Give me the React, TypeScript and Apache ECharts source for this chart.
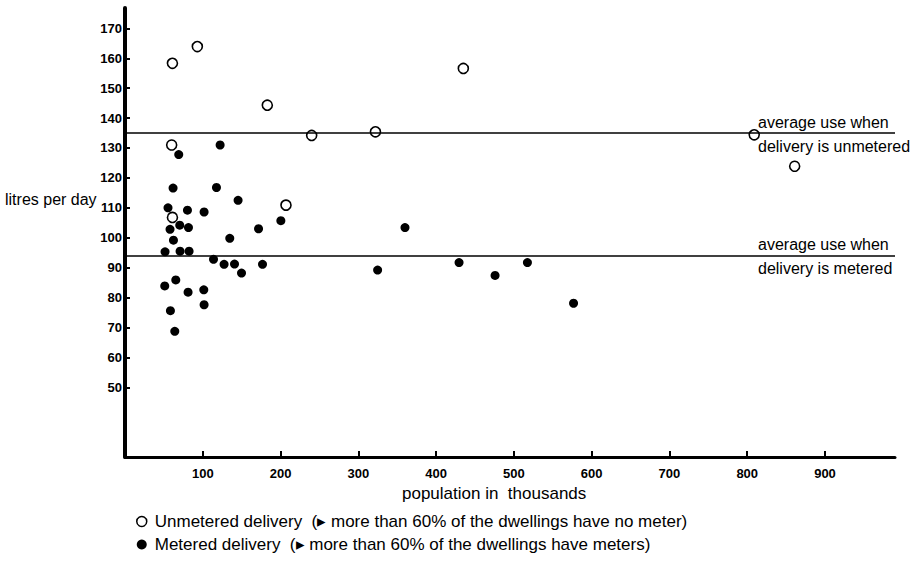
import React, { useEffect, useRef } from "react";
import * as echarts from "echarts";

const xTicks = [100, 200, 300, 400, 500, 600, 700, 800, 900];
const yTicks = [50, 60, 70, 80, 90, 100, 110, 120, 130, 140, 150, 160, 170];

const unmeteredX = [61, 93, 183, 60, 240, 322, 435, 207, 61, 809, 861];
const unmeteredY = [158.3, 163.9, 144.3, 131, 134.2, 135.4, 156.6, 110.9, 106.8, 134.4, 123.9];

const meteredX = [61.8, 55.3, 80.3, 101.7, 117.6, 145.4, 57.9, 70.4, 81.6, 62.3, 134.7, 171.7, 200.4, 51.5, 70.8, 82.4, 113.8, 127.4, 140.8, 149.8, 176.8, 51.1, 65.3, 81.1, 101.3, 101.7, 58.4, 64, 69.1, 122.3, 360, 324.8, 429.5, 475.8, 517.4, 576.7];
const meteredY = [116.6, 110, 109.2, 108.6, 116.8, 112.5, 102.8, 104.2, 103.4, 99.2, 99.8, 103, 105.7, 95.3, 95.5, 95.5, 92.8, 91.1, 91.2, 88.2, 91.1, 83.9, 85.9, 81.8, 82.6, 77.6, 75.6, 68.7, 127.8, 131, 103.4, 89.2, 91.7, 87.4, 91.7, 78.1];

const avgUnmetered = 135;
const avgMetered = 94;

const unmeteredName = "Unmetered delivery  (▸ more than 60% of the dwellings have no meter)";
const meteredName = "Metered delivery  (▸ more than 60% of the dwellings have meters)";

const FONT = "'Liberation Sans', Arial, Helvetica, sans-serif";

export default function App() {
  const ref = useRef<HTMLDivElement>(null);
  useEffect(() => {
    if (!ref.current) return;
    const chart = echarts.init(ref.current, null, { renderer: "svg" });
    const option: any = {
      animation: false,
      backgroundColor: "#fff",
      grid: { left: 125, right: 29, top: 8, bottom: 107, containLabel: false },
      xAxis: {
        type: "value",
        min: 0,
        max: 990,
        splitLine: { show: false },
        axisLine: { show: true, lineStyle: { color: "#000", width: 3 } },
        axisTick: { show: true, inside: true, length: 6, lineStyle: { color: "#000", width: 2 }, customValues: xTicks },
        axisLabel: { customValues: xTicks, color: "#000", fontFamily: FONT, fontWeight: "bold", fontSize: 13, margin: 10 },
      },
      yAxis: {
        type: "value",
        min: 26.7,
        max: 176.8,
        splitLine: { show: false },
        axisLine: { show: true, lineStyle: { color: "#000", width: 4 } },
        axisTick: { show: true, inside: true, length: 5, lineStyle: { color: "#000", width: 2 }, customValues: yTicks },
        axisLabel: { customValues: yTicks, color: "#000", fontFamily: FONT, fontWeight: "bold", fontSize: 13, margin: 3 },
      },
      legend: {
        orient: "vertical",
        left: 131,
        top: 508,
        itemWidth: 10,
        itemHeight: 10,
        itemGap: 6,
        icon: "circle",
        selectedMode: false,
        textStyle: { color: "#000", fontFamily: FONT, fontSize: 17, lineHeight: 16, padding: [0, 0, 0, 3] },
        data: [
          { name: unmeteredName, itemStyle: { color: "#fff", borderColor: "#000", borderWidth: 1.5, opacity: 1 } },
          { name: meteredName, itemStyle: { color: "#000", opacity: 1 } },
        ],
      },
      series: [
        {
          name: meteredName,
          type: "scatter",
          symbol: "circle",
          symbolSize: 9,
          itemStyle: { color: "#000", opacity: 1 },
          data: meteredX.map((x, i) => [x, meteredY[i]]),
          markLine: {
            silent: true,
            symbol: "none",
            lineStyle: { color: "#000", width: 1.5, type: "solid" },
            label: { show: false },
            data: [{ yAxis: avgUnmetered }, { yAxis: avgMetered }],
          },
          z: 3,
        },
        {
          name: unmeteredName,
          type: "scatter",
          symbol: "circle",
          symbolSize: 10,
          itemStyle: { color: "#fff", borderColor: "#000", borderWidth: 1.6, opacity: 1 },
          data: unmeteredX.map((x, i) => [x, unmeteredY[i]]),
          z: 4,
        },
      ],
    };
    chart.setOption(option);
    const yU = chart.convertToPixel({ gridIndex: 0 }, [0, avgUnmetered])[1];
    const yM = chart.convertToPixel({ gridIndex: 0 }, [0, avgMetered])[1];
    const txt = (x: number, y: number, text: string, va: string, size = 16) => ({
      type: "text",
      x,
      y,
      style: { text, fill: "#000", font: `${size}px ${FONT}`, textAlign: "left", textVerticalAlign: va },
      z: 10,
    });
    chart.setOption({
      graphic: [
        txt(758, yU - 3, "average use when", "bottom"),
        txt(758, yU + 5, "delivery is unmetered", "top"),
        txt(758, yM - 3, "average use when", "bottom"),
        txt(758, yM + 5, "delivery is metered", "top"),
        txt(5, 199, "litres per day", "middle"),
        txt(402, 493, "population in  thousands", "middle", 17),
      ],
    });
    return () => chart.dispose();
  }, []);
  return (
    <div
      ref={ref}
      style={{ position: "fixed", left: 0, top: 0, width: 924, height: 564, background: "#fff" }}
    />
  );
}
